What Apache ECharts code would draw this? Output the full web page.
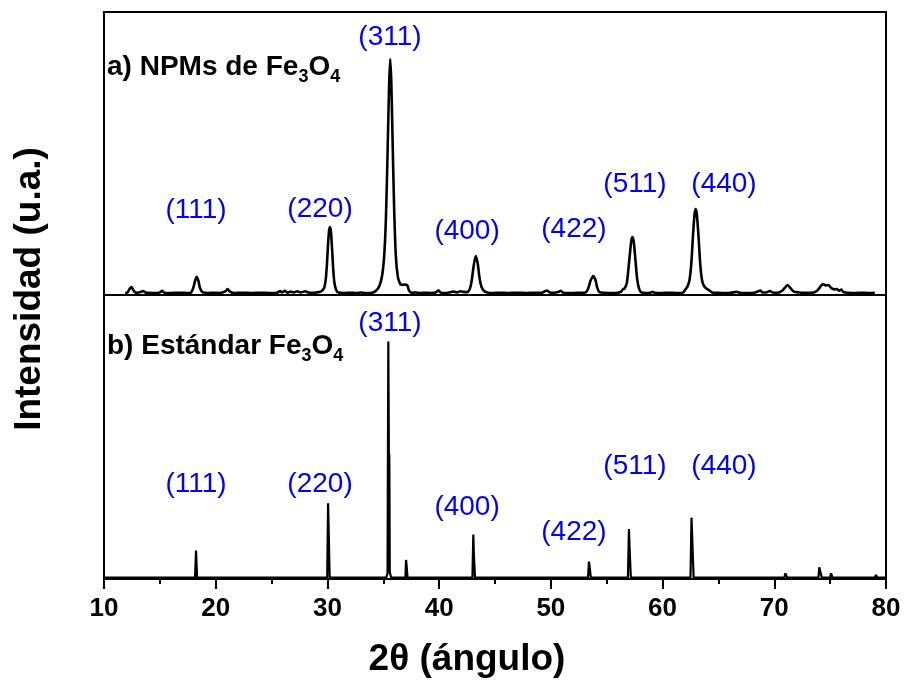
<!DOCTYPE html>
<html>
<head>
<meta charset="utf-8">
<title>DRX Fe3O4</title>
<script src="https://cdn.jsdelivr.net/npm/echarts@6/dist/echarts.min.js"></script>
<style>
  html, body { margin: 0; padding: 0; background: #fff; }
  #chart { width: 905px; height: 688px; }
</style>
</head>
<body>
<div id="chart"></div>
<script>
// 2θ tick labels of the shared bottom axis
const xTicks = [10, 20, 30, 40, 50, 60, 70, 80];

// a) measured pattern of the magnetite nanoparticles: [2θ, intensity (a.u.)]
const npmPattern = [
  [11.9,0.8],[12.1,0.9],[12.3,2.2],[12.45,2.8],[12.6,1.9],[12.8,0.9],[13.0,0.8],[13.3,1.1],[13.5,1.4],[13.7,0.9],
  [14.0,0.8],[14.5,0.7],[15.0,0.9],[15.2,1.5],[15.4,0.8],[16.0,0.7],[16.8,0.8],[17.5,0.7],[17.8,0.9],[18.0,2.6],
  [18.15,5.0],[18.3,6.4],[18.45,5.0],[18.6,2.4],[18.85,0.9],[19.3,0.7],[19.8,0.8],[20.4,0.7],[20.9,1.4],[21.07,2.1],
  [21.25,1.3],[21.6,0.7],[22.4,0.8],[23.2,0.7],[24.0,0.8],[24.8,0.7],[25.5,0.8],[25.75,1.4],[25.95,0.9],[26.2,1.5],
  [26.4,0.8],[26.7,1.2],[27.0,0.9],[27.3,1.3],[27.6,0.9],[28.0,1.3],[28.3,0.9],[28.6,0.8],[29.0,0.9],[29.4,1.2],
  [29.7,2.5],[29.85,5.5],[29.95,10.5],[30.05,17.5],[30.15,22.8],[30.23,24.0],[30.32,22.2],[30.42,16.0],[30.52,9.0],[30.62,4.5],
  [30.78,1.8],[31.0,0.9],[31.5,0.7],[32.0,0.8],[32.6,0.7],[33.0,0.9],[33.4,0.7],[34.0,0.8],[34.35,1.5],[34.65,3.2],
  [34.9,7.0],[35.1,15.0],[35.25,29.0],[35.4,53.0],[35.52,74.0],[35.62,83.4],[35.72,75.0],[35.83,55.0],[35.97,31.0],[36.12,14.0],
  [36.3,6.5],[36.5,4.0],[36.65,3.6],[36.9,3.7],[37.15,3.4],[37.3,1.6],[37.5,0.8],[37.9,0.9],[38.3,0.7],[38.8,0.8],
  [39.3,0.7],[39.7,0.9],[39.93,1.7],[40.15,0.8],[40.6,0.7],[41.0,1.0],[41.3,1.2],[41.6,0.9],[41.9,1.3],[42.2,1.1],
  [42.5,1.0],[42.75,2.2],[42.92,5.2],[43.08,10.0],[43.27,13.8],[43.45,11.2],[43.6,6.5],[43.78,3.0],[44.0,1.5],[44.3,0.9],
  [44.8,0.7],[45.5,0.8],[46.2,0.7],[47.0,0.8],[47.8,0.7],[48.5,0.8],[49.2,0.8],[49.45,1.3],[49.65,1.6],[49.9,0.9],
  [50.3,0.8],[50.75,1.2],[50.9,1.5],[51.1,0.8],[51.8,0.7],[52.5,0.8],[53.1,0.9],[53.35,2.4],[53.55,5.0],[53.8,6.7],
  [54.0,5.2],[54.15,2.6],[54.35,1.0],[54.8,0.8],[55.4,0.7],[56.0,0.8],[56.3,1.2],[56.45,2.0],[56.6,2.3],[56.8,4.2],
  [56.95,9.5],[57.1,15.5],[57.22,19.6],[57.32,20.5],[57.43,18.5],[57.58,12.0],[57.73,5.5],[57.9,2.2],[58.1,0.9],[58.5,0.7],
  [58.9,0.8],[59.1,1.1],[59.3,0.8],[59.9,0.7],[60.5,0.8],[61.2,0.7],[61.8,0.8],[62.05,2.0],[62.25,3.2],[62.42,5.5],
  [62.58,11.5],[62.73,21.5],[62.87,28.8],[62.97,30.4],[63.07,28.5],[63.22,20.5],[63.37,11.0],[63.52,5.5],[63.7,3.2],[63.95,2.2],
  [64.2,1.6],[64.45,0.9],[64.9,0.8],[65.5,0.7],[66.1,0.8],[66.6,1.1],[66.9,0.8],[67.5,0.7],[68.2,0.8],[68.55,1.3],
  [68.75,1.6],[68.95,0.9],[69.35,1.0],[69.6,1.4],[69.85,0.9],[70.3,0.8],[70.7,1.5],[71.0,2.8],[71.2,3.5],[71.45,2.4],
  [71.75,1.2],[72.2,0.9],[72.8,0.8],[73.4,0.8],[73.8,1.4],[74.1,2.8],[74.35,3.9],[74.6,3.4],[74.85,3.5],[75.1,2.5],
  [75.35,2.0],[75.6,2.1],[75.8,1.5],[76.0,1.9],[76.2,1.0],[76.6,0.8],[77.2,0.7],[77.8,0.8],[78.4,0.7],[79.0,0.8]
];

// b) reference (standard) magnetite pattern: [2θ, intensity (a.u.)]
const standardPattern = [
  [10.0,0.5],[18.15,0.5],[18.24,10.0],[18.33,0.5],
  [29.98,0.5],[30.06,26.7],[30.11,17.3],[30.14,17.0],[30.2,0.5],
  [35.26,0.5],[35.38,2.0],[35.45,83.6],[35.5,44.4],[35.54,43.5],[35.58,2.5],[35.7,0.5],
  [36.98,0.5],[37.04,6.7],[37.09,4.5],[37.12,4.3],[37.17,0.5],
  [42.98,0.5],[43.06,15.7],[43.11,8.5],[43.15,8.3],[43.21,0.5],
  [47.1,0.5],[47.2,0.9],[47.3,0.5],
  [53.33,0.5],[53.41,6.1],[53.48,4.0],[53.52,3.8],[53.58,0.5],
  [56.9,0.5],[56.99,17.6],[57.06,9.5],[57.1,9.3],[57.16,0.5],
  [62.5,0.5],[62.59,21.6],[62.68,11.4],[62.72,11.2],[62.78,0.5],
  [65.8,0.5],[65.9,0.8],[66.0,0.5],
  [70.9,0.5],[71.0,2.0],[71.08,1.6],[71.15,0.5],
  [73.95,0.5],[74.03,4.1],[74.12,2.6],[74.18,2.4],[74.25,0.5],
  [75.0,0.5],[75.08,2.0],[75.15,1.7],[75.22,0.5],
  [79.0,0.5],[79.1,1.4],[79.22,0.5],[80.0,0.5]
];

// Miller indices of the spinel reflections and where each tag sits (2θ, intensity)
const hklNames   = ['(111)', '(220)', '(311)', '(400)', '(422)', '(511)', '(440)'];
const hklTheta   = [18.24, 29.34, 35.6, 42.5, 52.07, 57.53, 65.5];
const hklTopY    = [30.0, 30.4, 91.0, 22.6, 23.3, 39.2, 39.2];
const hklBottomY = [33.5, 33.5, 90.0, 25.2, 16.4, 39.8, 39.8];

const FONT = '"Liberation Sans", Arial, Helvetica, sans-serif';

function tagData(yVals) {
  return hklNames.map((n, i) => ({ name: n, value: [hklTheta[i], yVals[i]] }));
}

function tagSeries(gridIdx, yVals) {
  return {
    type: 'scatter',
    xAxisIndex: gridIdx,
    yAxisIndex: gridIdx,
    symbolSize: 0,
    silent: true,
    itemStyle: { opacity: 1 },
    data: tagData(yVals),
    label: {
      show: true,
      position: 'inside',
      formatter: p => p.name,
      color: '#0000ff',
      opacity: 1,
      textBorderWidth: 0,
      fontFamily: FONT,
      fontSize: 28
    },
    z: 5
  };
}

// chemical formula with lowered subscripts
const formulaRich = {
  m: { fontFamily: FONT, fontWeight: 'bold', fontSize: 28, lineHeight: 28, fill: '#000' },
  s: { fontFamily: FONT, fontWeight: 'bold', fontSize: 18, height: 7, verticalAlign: 'bottom', fill: '#000' }
};

const chart = echarts.init(document.getElementById('chart'), null, { renderer: 'canvas' });

const option = {
  backgroundColor: '#fff',
  animation: false,
  grid: [
    { left: 104, right: 19, top: 12, height: 283, show: true, borderColor: '#000', borderWidth: 2, backgroundColor: 'transparent' },
    { left: 104, right: 19, top: 295, height: 284, show: true, borderColor: '#000', borderWidth: 2, backgroundColor: 'transparent' }
  ],
  xAxis: [
    {
      gridIndex: 0, type: 'value', min: 10, max: 80, interval: 10,
      axisLine: { show: false }, axisTick: { show: false }, axisLabel: { show: false }, splitLine: { show: false }
    },
    {
      gridIndex: 1, type: 'value', min: xTicks[0], max: xTicks[xTicks.length - 1], interval: 10,
      axisLine: { show: true, onZero: false, lineStyle: { color: '#000', width: 2 } },
      axisTick: { show: true, inside: false, length: 10, lineStyle: { color: '#000', width: 2 } },
      minorTick: { show: true, splitNumber: 2, length: 5, lineStyle: { color: '#000', width: 2 } },
      axisLabel: { color: '#000', fontFamily: FONT, fontWeight: 'bold', fontSize: 26, margin: 17 },
      splitLine: { show: false }
    }
  ],
  yAxis: [
    { gridIndex: 0, type: 'value', min: 0, max: 100, show: false, splitLine: { show: false } },
    { gridIndex: 1, type: 'value', min: 0, max: 100, show: false, splitLine: { show: false } }
  ],
  series: [
    {
      name: 'NPMs de Fe3O4', type: 'line', xAxisIndex: 0, yAxisIndex: 0,
      data: npmPattern, showSymbol: false, smooth: 0.25, silent: true,
      lineStyle: { color: '#000', width: 2.6 }
    },
    {
      name: 'Estándar Fe3O4', type: 'line', xAxisIndex: 1, yAxisIndex: 1,
      data: standardPattern, showSymbol: false, silent: true,
      lineStyle: { color: '#000', width: 2.2 }
    },
    tagSeries(0, hklTopY),
    tagSeries(1, hklBottomY)
  ],
  graphic: [
    {
      type: 'text', x: 107, y: 67, silent: true,
      style: { text: '{m|a) NPMs de Fe}{s|3}{m|O}{s|4}', verticalAlign: 'middle', rich: formulaRich }
    },
    {
      type: 'text', x: 107, y: 346, silent: true,
      style: { text: '{m|b) Estándar Fe}{s|3}{m|O}{s|4}', verticalAlign: 'middle', rich: formulaRich }
    },
    {
      type: 'text', x: 30, y: 289, rotation: Math.PI / 2, silent: true,
      style: {
        text: 'Intensidad (u.a.)', align: 'center', verticalAlign: 'middle',
        fontFamily: FONT, fontWeight: 'bold', fontSize: 37, fill: '#000'
      }
    },
    {
      type: 'text', x: 467, y: 660, silent: true,
      style: {
        text: '2θ (ángulo)', align: 'center', verticalAlign: 'middle',
        fontFamily: FONT, fontWeight: 'bold', fontSize: 37, fill: '#000'
      }
    }
  ]
};

chart.setOption(option);
</script>
</body>
</html>
